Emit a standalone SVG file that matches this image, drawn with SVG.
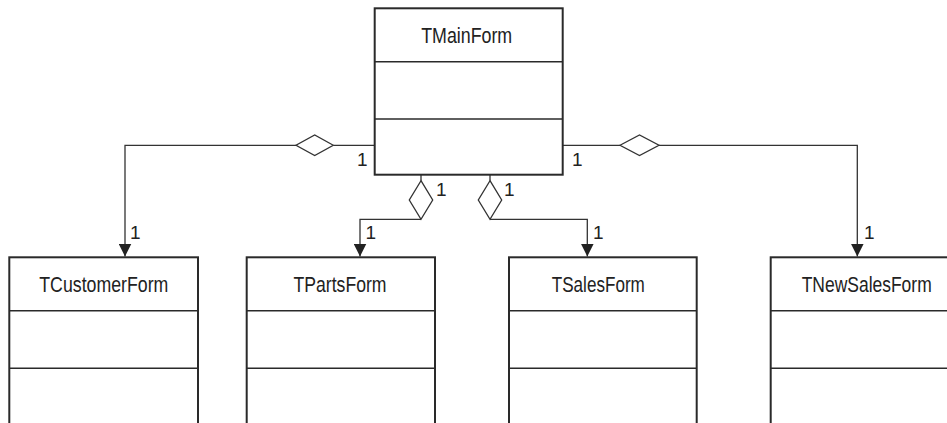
<svg xmlns="http://www.w3.org/2000/svg" width="947" height="423" viewBox="0 0 947 423">
<style>
.box{fill:#fff;stroke:#2a2a2a;stroke-width:2}
.div{stroke:#2a2a2a;stroke-width:1.6}
.name{font-family:"Liberation Sans",Arial,sans-serif;font-size:22px;fill:#222;text-anchor:middle}
.mul{font-family:"Liberation Sans",Arial,sans-serif;font-size:19px;fill:#222}
.con{fill:none;stroke:#333;stroke-width:1.3}
.dia{fill:#fff;stroke:#333;stroke-width:1.3}
</style>
<defs>
<marker id="arr" markerWidth="14" markerHeight="13" refX="13" refY="6.5" orient="auto" markerUnits="userSpaceOnUse">
<path d="M0,0 L13,6.5 L0,13 Z" fill="#222"/>
</marker>
</defs>
<rect width="947" height="423" fill="#fff"/>
<g id="connectors">
<path class="con" d="M374.7,145.3 H333.3"/>
<path class="con" d="M296,145.3 H125 V256.5" marker-end="url(#arr)"/>
<polygon class="dia" points="333.3,145.3 314.7,135 296,145.3 314.7,155.6"/>
<path class="con" d="M562.7,145.3 H620"/>
<path class="con" d="M659,145.3 H857.3 V256.5" marker-end="url(#arr)"/>
<polygon class="dia" points="620,145.3 639.5,135 659,145.3 639.5,155.6"/>
<path class="con" d="M421,175 V180.7"/>
<polygon class="dia" points="421,180.7 432.7,200 421,219.3 409.3,200"/>
<path class="con" d="M421,219.3 H360 V256.5" marker-end="url(#arr)"/>
<path class="con" d="M490,175 V180.7"/>
<polygon class="dia" points="490,180.7 501.7,200 490,219.3 478.3,200"/>
<path class="con" d="M490,219.3 H587.3 V256.5" marker-end="url(#arr)"/>
<text class="mul" x="357" y="166">1</text>
<text class="mul" x="572" y="166">1</text>
<text class="mul" x="130" y="239">1</text>
<text class="mul" x="864" y="239">1</text>
<text class="mul" x="365.5" y="239">1</text>
<text class="mul" x="593" y="239">1</text>
<text class="mul" x="436" y="196">1</text>
<text class="mul" x="504" y="196">1</text>
</g>
<g id="TMainForm">
<rect class="box" x="374.7" y="8.3" width="188" height="166.4"/>
<line class="div" x1="374.7" y1="61.7" x2="562.7" y2="61.7"/>
<line class="div" x1="374.7" y1="119" x2="562.7" y2="119"/>
<text class="name" x="466.7" y="43" textLength="91" lengthAdjust="spacingAndGlyphs">TMainForm</text>
</g>
<g id="TCustomerForm">
<rect class="box" x="9.3" y="257.3" width="188.7" height="180"/>
<line class="div" x1="9.3" y1="310.7" x2="198" y2="310.7"/>
<line class="div" x1="9.3" y1="368.3" x2="198" y2="368.3"/>
<text class="name" x="103.8" y="291.7" textLength="129" lengthAdjust="spacingAndGlyphs">TCustomerForm</text>
</g>
<g id="TPartsForm">
<rect class="box" x="246.7" y="257.3" width="188.3" height="180"/>
<line class="div" x1="246.7" y1="310.7" x2="435" y2="310.7"/>
<line class="div" x1="246.7" y1="368.3" x2="435" y2="368.3"/>
<text class="name" x="340" y="291.7" textLength="93" lengthAdjust="spacingAndGlyphs">TPartsForm</text>
</g>
<g id="TSalesForm">
<rect class="box" x="509" y="257.3" width="187.7" height="180"/>
<line class="div" x1="509" y1="310.7" x2="696.7" y2="310.7"/>
<line class="div" x1="509" y1="368.3" x2="696.7" y2="368.3"/>
<text class="name" x="598.3" y="291.7" textLength="93" lengthAdjust="spacingAndGlyphs">TSalesForm</text>
</g>
<g id="TNewSalesForm">
<rect class="box" x="770.7" y="257.3" width="192" height="180"/>
<line class="div" x1="770.7" y1="310.7" x2="962.7" y2="310.7"/>
<line class="div" x1="770.7" y1="368.3" x2="962.7" y2="368.3"/>
<text class="name" x="866.7" y="291.7" textLength="130" lengthAdjust="spacingAndGlyphs">TNewSalesForm</text>
</g>
</svg>
